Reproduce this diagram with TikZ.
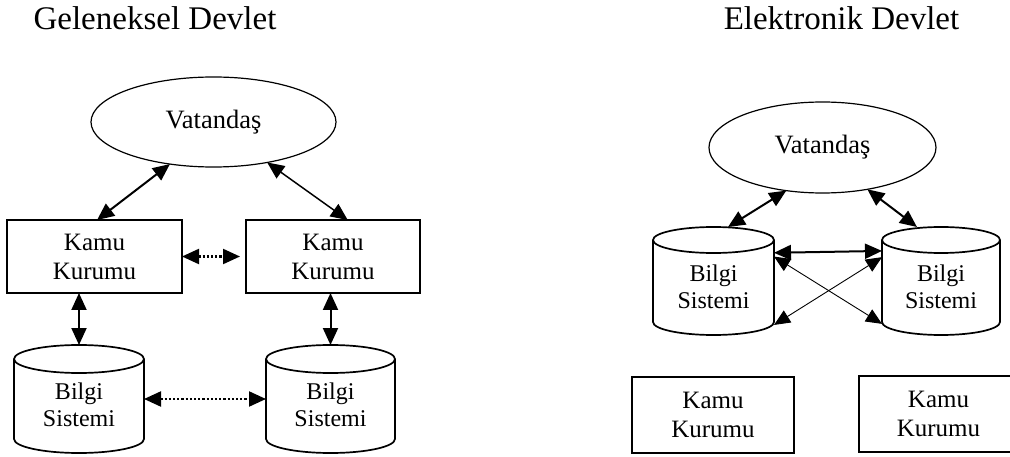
\documentclass[tikz,border=0pt]{standalone}
\usepackage{fontspec}
\setmainfont{Liberation Serif}
\usetikzlibrary{shapes.geometric,arrows.meta,calc}

\tikzset{
  heading/.style={font=\fontsize{33}{38}\selectfont, anchor=base, inner sep=0pt},
  citizen/.style={ellipse, draw, line width=1.2pt, inner sep=0pt, outer sep=0pt,
    font=\fontsize{26.5}{30}\selectfont},
  agency/.style={rectangle, draw, line width=2pt, inner sep=0pt, outer sep=0pt,
    align=center, font=\fontsize{25}{29}\selectfont},
  dbnode/.style={rectangle, inner sep=0pt, outer sep=0pt},
  dbtext/.style={align=center, font=\fontsize{24}{27}\selectfont, inner sep=0pt},
  dbline/.style={line width=1.7pt},
  bigtip/.style={Triangle[length=17pt,width=15pt]},
  link/.style={{Triangle[length=17pt,width=15pt]}-{Triangle[length=17pt,width=15pt]}, line width=2pt},
  thinlink/.style={{Triangle[length=16pt,width=14pt]}-{Triangle[length=16pt,width=14pt]}, line width=0.9pt},
  dotlink/.style={{Triangle[length=17pt,width=15pt]}-{Triangle[length=17pt,width=15pt]}, line width=2.2pt,
    dash pattern=on 2.2pt off 2pt},
}

% database outline around a named node: #1 node, #2 half-height of the cap
\newcommand\dbdraw[2]{%
  \draw[dbline] let \p1=(#1.north west), \p2=(#1.south east), \n1={0.5*(\x2-\x1)} in
    (\x1,\y1-#2) -- (\x1,\y2+#2)
    arc[start angle=180, end angle=360, x radius={\n1*1pt}, y radius=#2]
    -- (\x2,\y1-#2)
    arc[start angle=0, end angle=360, x radius={\n1*1pt}, y radius=#2];}

\begin{document}
\begin{tikzpicture}[x=1pt, y=-1pt]
\useasboundingbox (0,0) rectangle (1010,457);

% ---------- traditional government ----------
\node[heading] (tl) at (155,30) {Geleneksel Devlet};
\node[citizen, minimum width=245pt, minimum height=90pt] (E1) at (213.5,122) {Vatandaş};
\node[agency, minimum width=175pt, minimum height=73pt] (K1) at (94.5,256.5) {Kamu\\Kurumu};
\node[agency, minimum width=174pt, minimum height=73pt] (K2) at (333,256.5) {Kamu\\Kurumu};
\node[dbnode, minimum width=130pt, minimum height=108pt,
  label={[dbtext, yshift=-6pt]center:Bilgi\\Sistemi}] (C1) at (79,399) {};
\node[dbnode, minimum width=129pt, minimum height=108pt,
  label={[dbtext, yshift=-6pt]center:Bilgi\\Sistemi}] (C2) at (330.5,399) {};
\dbdraw{C1}{14pt}
\dbdraw{C2}{14pt}

\draw[link] (E1.224) -- (K1.86);
\draw[link, line width=1.5pt] (E1.323) -- (K2.68);
\draw[dotlink, shorten >=6pt] (K1.east) -- (K2.west);
\draw[link] (K1.south -| C1.north) -- (C1.north);
\draw[link] (K2.south -| C2.north) -- (C2.north);
\draw[dotlink] (C1.east) -- (C2.west);

% ---------- electronic government ----------
\node[heading] (tr) at (841.5,30) {Elektronik Devlet};
\node[citizen, minimum width=227pt, minimum height=91pt] (E2) at (822.5,147.5) {Vatandaş};
\node[dbnode, minimum width=121pt, minimum height=108pt,
  label={[dbtext, yshift=-6pt]center:Bilgi\\Sistemi}] (CA) at (713.5,281) {};
\node[dbnode, minimum width=118pt, minimum height=108pt,
  label={[dbtext, yshift=-6pt]center:Bilgi\\Sistemi}] (CB) at (941,281) {};
\dbdraw{CA}{13pt}
\dbdraw{CB}{13pt}
\node[agency, minimum width=162pt, minimum height=76pt] (KA) at (713,415) {Kamu\\Kurumu};
\node[agency, minimum width=159pt, minimum height=76pt] (KB) at (938.5,414) {Kamu\\Kurumu};

\draw[link] (E2.230) -- (CA.75);
\draw[link] (E2.317) -- (CB.114);
\draw[link] (CA.25.6) -- (CB.153.8);
\draw[thinlink] (CA.22.5) -- (CB.216.7);
\draw[thinlink] (CB.158.7) -- (CA.324);
\end{tikzpicture}
\end{document}
